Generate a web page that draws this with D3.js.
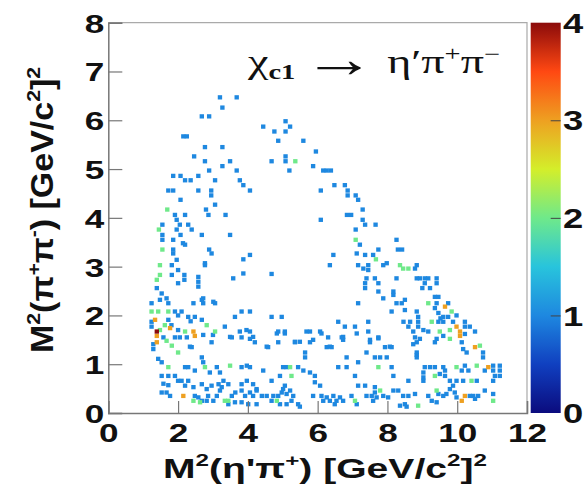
<!DOCTYPE html>
<html><head><meta charset="utf-8">
<script src="https://cdn.jsdelivr.net/npm/d3@7"></script>
<style>body{margin:0;background:#fff} svg{display:block}</style>
</head><body><svg id="c" width="587" height="492"></svg>
<script>
// ---- data ----
const xTickValues = [0, 2, 4, 6, 8, 10, 12];
const yTickValues = [0, 1, 2, 3, 4, 5, 6, 7, 8];
const zTickValues = [0, 1, 2, 3, 4];
const xTitleParts = ["M", "2", "(η'π", "+", ") [GeV/c", "2", "]", "2"];
const yTitleParts = ["M", "2", "(π", "+", "π", "-", ") [GeV/c", "2", "]", "2"];
// bins with 1 entry [M2(eta' pi+), M2(pi+ pi-)]
const countOne = [
[3.20,6.47],[3.68,6.47],[3.27,6.26],[2.68,6.08],[2.89,6.08],[2.15,5.67],[2.25,5.67],[2.77,5.45],[3.27,5.45],[2.46,5.26],[2.77,5.16],[3.49,5.16],[3.27,5.06],[2.89,4.97],[3.68,4.97],[1.86,4.86],[2.07,4.86],[2.20,4.77],[2.36,4.77],[2.58,4.86],[3.06,4.77],[3.77,4.77],[3.87,4.67],[4.06,4.56],[1.72,4.56],[1.86,4.56],[2.58,4.56],[2.95,4.56],[2.95,4.46],[2.07,4.37],[3.06,4.27],[1.91,4.06],[2.20,4.06],[2.80,4.17],[2.87,4.06],[3.36,4.06],[1.55,3.86],[1.96,3.96],[2.05,3.86],[2.29,3.86],[2.39,3.76],[1.55,3.65],[1.55,3.55],[1.96,3.76],[2.07,3.65],[2.68,3.65],[3.49,3.65],[1.86,3.55],[2.20,3.45],[1.86,3.35],[2.89,3.35],
[4.44,5.87],[4.76,5.77],[5.08,5.98],[5.21,5.87],[5.08,5.77],[4.87,5.58],[5.59,5.58],[5.95,5.36],[4.68,5.16],[5.08,5.26],[5.08,5.16],[5.19,4.97],[5.87,5.06],[6.16,4.97],[6.09,4.56],[6.09,3.96],
[6.26,4.97],[6.38,4.97],[6.48,4.67],[6.78,4.67],[6.86,4.56],[6.86,4.46],[7.09,4.46],[7.16,4.37],[7.29,4.17],[6.84,4.06],[6.96,4.06],[7.29,3.96],[7.36,3.86],[7.66,3.86],[7.09,3.76],[7.21,3.45],[8.26,3.55],[8.30,3.35],[8.42,3.35],[7.74,3.35],
[1.86,3.27],[2.96,3.27],[4.06,3.24],[3.87,3.15],[1.82,3.03],[1.96,3.14],[2.00,2.93],[2.77,3.03],[2.18,2.83],[2.18,2.73],[2.00,2.66],[1.82,2.83],[2.58,2.79],[2.58,2.69],[2.58,2.59],[3.58,2.76],[3.87,2.86],[1.39,2.56],[1.53,2.45],[1.67,2.35],[1.48,2.32],[1.24,2.25],[1.72,2.25],[2.44,2.25],[2.72,2.35],[2.72,2.25],[3.06,2.25],[1.91,2.08],[2.00,2.00],[2.10,2.08],[2.29,1.97],[2.48,1.97],[2.68,1.91],[3.63,1.97],[3.82,2.08],[4.06,2.08],[1.24,1.87],[1.24,1.77],[1.72,1.91],[1.81,1.80],[2.00,1.70],[3.34,1.77],[3.77,1.67],[4.06,1.67],[2.14,3.48],[2.77,3.07],[2.68,2.32],[3.01,2.28],[3.96,1.70],[4.15,1.56],[4.54,1.36],[4.83,1.63],[5.06,1.63],[5.35,1.46],[3.49,1.56],[2.34,1.36],[2.36,1.88],
[6.45,3.24],[7.36,3.24],[7.59,3.24],[7.88,3.03],[6.35,3.03],[7.16,3.03],[7.31,2.96],[7.45,3.03],[7.45,2.93],[4.68,2.85],[7.40,2.76],[7.36,2.66],[7.36,2.56],[7.64,2.76],[7.74,2.66],[7.74,2.49],[7.88,2.35],[7.16,2.25],[4.68,1.97],[4.97,1.97],[6.59,1.87],[6.78,1.77],[7.07,1.77],[7.45,1.87],[4.87,1.67],[5.06,1.67],[5.68,1.67],[5.78,1.67],[6.07,1.67],[6.73,1.56],[7.12,1.63],[7.45,1.67],[7.74,1.53],[5.49,1.46],[5.87,1.50],[6.11,1.63],[6.35,1.36],[6.73,1.50],[7.50,1.50],[8.07,1.36],[8.84,1.19],[7.12,3.27],
[7.98,3.07],[8.84,3.03],[8.79,2.96],[8.26,2.76],[8.84,2.76],[8.93,2.76],[9.07,2.76],[9.17,2.76],[9.07,2.66],[9.22,2.56],[9.41,2.76],[9.41,2.66],[9.00,2.56],[8.17,2.49],[8.17,2.42],[9.36,2.38],[9.46,2.38],[8.26,2.25],[8.41,2.25],[8.50,2.32],[9.41,2.25],[9.36,2.15],[9.74,2.25],[8.12,2.08],[8.50,2.11],[8.84,2.08],[8.88,1.97],[9.46,2.05],[9.60,1.97],[9.74,1.97],[9.52,1.94],[9.98,2.00],[8.46,1.87],[8.65,1.87],[8.88,1.87],[8.88,1.77],[9.46,1.87],[9.60,1.87],[9.88,1.87],[10.22,1.87],[10.36,1.77],[10.51,1.67],[10.22,1.77],[8.60,1.77],[8.74,1.67],[9.03,1.70],[9.17,1.67],
[1.58,1.55],[1.29,1.41],[1.29,1.31],[1.91,1.55],[2.05,1.55],[2.25,1.55],[2.72,1.60],[3.00,1.60],[2.39,1.35],[2.96,1.45],[3.54,1.55],[3.82,1.55],[4.06,1.52],[4.20,1.45],[1.43,1.11],[1.53,1.04],[2.68,1.14],[2.72,1.04],[2.20,0.94],[2.29,0.94],[2.48,0.87],[2.91,0.83],[3.11,0.94],[3.20,0.83],[3.82,0.94],[3.97,0.97],[4.06,0.94],[1.53,0.76],[1.72,0.76],[1.91,0.76],[2.00,0.66],[2.10,0.66],[2.29,0.66],[1.58,0.60],[1.72,0.57],[2.20,0.56],[2.44,0.53],[2.68,0.59],[2.82,0.49],[2.96,0.56],[3.16,0.59],[3.30,0.66],[3.44,0.59],[3.82,0.59],[3.97,0.66],[4.15,0.59],[4.25,0.49],[1.53,0.42],[1.67,0.42],[1.77,0.35],[2.48,0.35],[2.58,0.32],[2.68,0.25],[2.82,0.25],[2.86,0.35],[3.01,0.25],[3.11,0.35],[3.20,0.46],[3.25,0.53],[3.54,0.35],[3.64,0.42],[3.82,0.46],[3.92,0.35],[4.06,0.42],[4.15,0.35],[4.25,0.46],[3.44,0.18],[3.63,0.22],[3.82,0.22],[4.01,0.18],[4.25,0.18],
[4.87,1.45],[5.35,1.45],[5.78,1.45],[6.30,1.55],[6.69,1.55],[7.50,1.45],[7.74,1.55],[4.58,1.35],[5.64,1.24],[5.64,1.14],[6.26,1.35],[6.40,1.35],[6.83,1.14],[6.83,0.94],[6.59,0.94],[7.16,1.04],[7.40,1.24],[7.64,1.14],[7.79,1.14],[5.01,0.94],[5.11,0.94],[5.44,0.94],[5.59,0.87],[5.78,0.83],[5.92,0.76],[4.92,0.76],[5.92,0.63],[4.68,0.66],[4.44,0.87],[7.07,0.76],[6.07,0.56],[5.06,0.56],[5.01,0.49],[4.97,0.42],[5.11,0.39],[5.21,0.46],[7.16,0.56],[7.36,0.56],[7.64,0.53],[7.64,0.42],[7.55,0.35],[4.40,0.35],[4.54,0.35],[4.68,0.25],[4.73,0.35],[4.87,0.35],[4.92,0.18],[5.11,0.18],[5.25,0.25],[5.30,0.35],[5.44,0.18],[5.49,0.13],[5.87,0.35],[6.11,0.35],[6.16,0.25],[6.26,0.32],[6.35,0.25],[6.45,0.35],[6.49,0.18],[6.54,0.25],[6.64,0.32],[6.73,0.25],[6.97,0.35],[7.12,0.18],[7.40,0.35],[7.59,0.25],[7.69,0.32],[7.88,0.35],
[8.79,1.55],[8.93,1.52],[8.84,1.45],[8.74,1.41],[9.41,1.52],[9.60,1.58],[10.22,1.62],[10.13,1.45],[10.17,1.31],[10.27,1.24],[10.74,1.24],[10.74,1.14],[11.03,0.97],[11.22,0.97],[11.22,0.87],[11.22,0.76],[7.93,1.35],[8.12,1.35],[7.98,1.14],[8.84,1.24],[8.84,1.14],[9.36,1.45],[9.07,0.94],[9.22,0.94],[9.36,0.94],[9.60,0.94],[9.65,0.87],[9.65,0.76],[9.03,0.83],[9.03,0.73],[9.03,0.66],[9.50,0.80],[10.13,0.87],[10.22,0.97],[10.32,0.87],[10.79,0.87],[11.03,0.87],[11.08,0.76],[11.03,0.66],[8.12,0.94],[8.17,0.76],[8.60,0.66],[9.79,0.66],[9.98,0.66],[10.17,0.66],[10.56,0.66],[9.88,0.56],[9.79,0.49],[9.46,0.39],[9.60,0.35],[9.69,0.39],[9.93,0.42],[9.98,0.32],[10.36,0.35],[10.46,0.35],[10.51,0.29],[10.60,0.35],[10.79,0.46],[11.03,0.39],[8.17,0.46],[8.31,0.46],[8.45,0.35],[8.60,0.35],[8.79,0.39],[9.17,0.35],[9.27,0.25],[9.41,0.22],[8.36,0.15],[8.50,0.18],[8.55,0.13],[8.02,0.32]
];
// bins with 2 entries
const countTwo = [
[1.69,4.17],[1.45,3.76],[1.55,3.35],[5.36,5.16],[7.09,3.55],[1.48,3.03],[1.48,2.83],[1.39,2.73],[1.24,2.08],[1.43,2.08],[1.72,2.08],[1.62,1.80],[1.48,1.70],[2.20,1.67],[2.82,1.80],[3.06,1.67],[7.67,3.15],[8.36,3.03],[8.45,2.96],[8.60,2.96],[9.17,2.25],[9.84,2.08],[9.27,1.87],[9.50,1.67],[9.79,1.70],[1.67,1.48],[1.82,1.38],[2.00,1.24],[1.72,0.94],[2.77,0.94],[3.49,0.97],[2.44,0.25],[2.63,0.22],[3.34,0.25],[3.44,0.25],[7.74,0.94],[5.21,0.94],[5.25,0.76],[4.83,0.25],[7.07,0.25],[7.79,0.46],[9.79,1.52],[10.65,1.38],[9.36,0.76],[9.98,0.94],[10.56,0.97],[10.41,0.66],[9.41,0.46],[11.03,0.25],[8.88,0.15]
];
// bins with 3 entries
const countThree = [
[1.34,1.91],[1.77,1.74],[2.44,1.67],[9.65,2.18],[9.98,1.77],[10.08,1.67],[1.39,1.58],[1.39,1.45],[2.48,1.58],[2.15,0.35],[10.08,1.58],[10.51,1.35],[10.89,0.94],[10.22,0.35],[10.13,0.25]
];
// bins with 4 entries
const countFour = [[1.39,1.67]];

const paletteStops = [0, 0.5, 1, 1.5, 2, 2.5, 3, 3.5, 4];
const paletteColors = ["#0b0b7e","#1040c0","#1e88e0","#28c4dc","#6fe98a","#d4ee2a","#eea021","#ff4812","#8b0b0b"];

// ---- drawing ----
const svg = d3.select("#c");
const L = 108.3, R = 527, T = 22.7, B = 413;
const x = d3.scaleLinear().domain([0, 12]).range([L, R]);
const y = d3.scaleLinear().domain([0, 8]).range([B, T]);
const color = d3.scaleLinear().domain(paletteStops).range(paletteColors);
const binW = 0.125, binH = 0.088;

const bins = [].concat(
  countOne.map(d => ({x: d[0], y: d[1], n: 1})),
  countTwo.map(d => ({x: d[0], y: d[1], n: 2})),
  countThree.map(d => ({x: d[0], y: d[1], n: 3})),
  countFour.map(d => ({x: d[0], y: d[1], n: 4}))
);
svg.append("g").selectAll("rect").data(bins).join("rect")
  .attr("x", d => x(d.x - binW / 2))
  .attr("y", d => y(d.y + binH / 2))
  .attr("width", x(binW) - x(0))
  .attr("height", y(0) - y(binH))
  .attr("fill", d => color(d.n));

// frame
svg.append("path").attr("d", `M${L},${T}H${R}V${B}`).attr("fill", "none").attr("stroke", "#aaa").attr("stroke-width", 1.2);

const sans = "'Liberation Sans', Arial, sans-serif";
// y axis
const gy = svg.append("g").attr("transform", `translate(${L},0)`);
gy.call(d3.axisLeft(y).tickValues(d3.range(0, 8.001, 0.2)).tickSize(-7).tickFormat(""));
gy.call(d3.axisLeft(y).tickValues(yTickValues).tickSize(-14).tickPadding(4).tickFormat(d3.format("d")));
gy.selectAll("path.domain").attr("stroke", "#777").attr("stroke-width", 1.5);
gy.selectAll("line").attr("stroke", "#777").attr("stroke-width", 1.2);
gy.selectAll("text").attr("font-family", sans).attr("font-weight", "bold").attr("font-size", 26).attr("fill", "#111")
  .attr("x", null).attr("dy", "0.36em").attr("transform", "translate(-4,0) scale(1.35,1)");

// x axis
const gx = svg.append("g").attr("transform", `translate(0,${B})`);
gx.call(d3.axisBottom(x).tickValues(d3.range(0, 12.001, 0.5)).tickSize(-6).tickFormat(""));
gx.call(d3.axisBottom(x).tickValues(xTickValues).tickSize(-12).tickFormat(d3.format("d")));
gx.selectAll("path.domain").attr("stroke", "#777").attr("stroke-width", 1.5);
gx.selectAll("line").attr("stroke", "#777").attr("stroke-width", 1.2);
gx.selectAll("text").attr("font-family", sans).attr("font-weight", "bold").attr("font-size", 26).attr("fill", "#111")
  .attr("y", null).attr("dy", null).attr("transform", "translate(0,29) scale(1.35,1)");

// colorbar
const z = d3.scaleLinear().domain([0, 4]).range([B, T]);
const grad = svg.append("defs").append("linearGradient").attr("id", "pal")
  .attr("x1", 0).attr("y1", 1).attr("x2", 0).attr("y2", 0);
d3.range(0, 4.001, 0.1).forEach(v => grad.append("stop").attr("offset", v / 4).attr("stop-color", color(v)));
svg.append("rect").attr("x", 530.7).attr("y", T).attr("width", 30).attr("height", B - T).attr("fill", "url(#pal)");
const gz = svg.append("g").attr("transform", "translate(560.7,0)");
gz.call(d3.axisLeft(z).tickValues(zTickValues).tickSize(10).tickFormat(""));
gz.selectAll("path.domain").remove();
gz.selectAll("line").attr("stroke", "#444").attr("stroke-width", 1);
gz.selectAll(".tick").filter(d => d === 0 || d === 4).select("line").remove();
svg.append("g").selectAll("text").data(zTickValues).join("text")
  .attr("transform", d => `translate(563,${z(d)}) scale(1.3,1)`)
  .attr("dy", "0.36em").attr("font-family", sans).attr("font-weight", "bold").attr("font-size", 28).attr("fill", "#111")
  .text(d => d);

// titles
function titled(parts, g, size) {
  const t = g.append("text").attr("font-family", sans).attr("font-weight", "bold").attr("font-size", size).attr("fill", "#111");
  parts.forEach((p, i) => {
    const sup = i % 2 === 1;
    t.append("tspan").attr("font-size", sup ? size * 0.62 : size).attr("dy", sup ? -size * 0.42 : (i > 0 ? size * 0.42 : 0)).text(p);
  });
  return t;
}
const xt = titled(xTitleParts, svg.append("g"), 28);
const xl = xt.node().getComputedTextLength();
xt.attr("text-anchor", "middle").attr("transform", `translate(325,478) scale(${324 / xl},1)`);

const yt = titled(yTitleParts, svg.append("g"), 31);
const yl = yt.node().getComputedTextLength();
yt.attr("text-anchor", "middle").attr("transform", `translate(53,210) rotate(-90) scale(${286 / yl},1)`);

// annotation chi_c1 -> eta' pi+ pi-
const serif = "'Liberation Serif', 'Times New Roman', serif";
const an = svg.append("text").attr("font-family", serif).attr("font-size", 34).attr("fill", "#111");
an.append("tspan").text("χ");
an.append("tspan").attr("font-size", 21).attr("font-weight", "bold").attr("dy", 6).text("c1 ");
an.append("tspan").attr("font-size", 54).attr("dy", -2).text("→");
an.append("tspan").attr("dy", -4).text(" η′π");
an.append("tspan").attr("font-size", 21).attr("dy", -12).text("+");
an.append("tspan").attr("dy", 12).text("π");
an.append("tspan").attr("font-size", 21).attr("dy", -12).text("−");
const al = an.node().getComputedTextLength();
an.attr("transform", `translate(248,73) scale(${252 / al},1)`);
</script></body></html>
